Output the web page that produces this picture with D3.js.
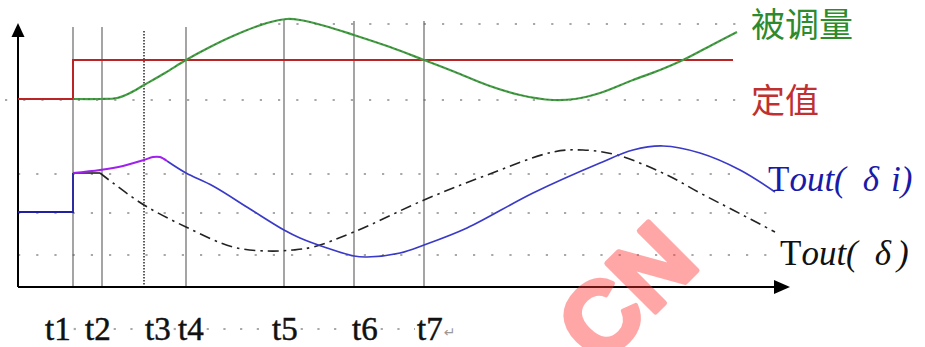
<!DOCTYPE html>
<html><head><meta charset="utf-8">
<script src="https://cdn.jsdelivr.net/npm/d3@7"></script>
<style>html,body{margin:0;padding:0;background:#fff;}svg{display:block;}</style>
</head><body>
<svg id="c" width="925" height="347"></svg>
<script>
// ---- data (x: time units, y: signal units) ----
const setpoint = [[0,188],[55,188],[55,227],[715,227]];
const controlled = [[55,188],[82,188],[99,189],[112,194],[126,202],[147,214],[168,227],[192,240],[215,251],[249,264],[269,268],[282,267],[307,261],[336,252],[372,240],[406,227],[437,215],[469,202],[502,192],[535,187],[557,188],[582,194],[615,207],[642,217],[665,227],[692,241],[719,255]];
const toutDiStep = [[0,75],[55,75],[55,114]];
const toutDiPurple = [[55,114],[82,117],[105,121],[126,127],[135,130],[142,130],[149,126]];
const toutDi = [[149,126],[168,114],[195,101],[232,78],[266,57],[282,49],[309,39],[336,31],[349,30],[382,34],[406,42],[449,59],[515,94],[582,124],[615,137],[645,141],[682,134],[722,117],[757,95]];
const toutDHold = [[55,114],[82,114]];
const toutD = [[82,114],[95,104],[126,82],[168,60],[215,40],[249,36],[275,37],[295,40],[336,55],[406,87],[469,112],[535,135],[565,137],[599,132],[649,112],[682,94],[715,77],[757,55]];
const markers = [55,84,126,168,266,336,406];
const markerTops = [260,260,256,260,267,266,266];
const markerDotted = [false,false,true,false,false,false,false];
const markerLabels = ["t1","t2","t3","t4","t5","t6","t7"];
const markerLabelX = [27,67,127,160,254,334,399];
const gridY = [263,187,113,74,32];
const gridX0 = [242,-13,0,0,0];
const gridX1 = [722,719,719,762,752];
const seriesLabels = ["被调量","定值"];
const seriesLabelY = [263,187];

// ---- scales ----
const x = d3.scaleLinear().domain([0,770]).range([18,788]);
const y = d3.scaleLinear().domain([0,270]).range([287,17]);
const svg = d3.select("#c");
const line = d3.line().x(d=>x(d[0])).y(d=>y(d[1]));
const smooth = d3.line().x(d=>x(d[0])).y(d=>y(d[1])).curve(d3.curveCatmullRom.alpha(0.5));

// grid (dotted)
svg.append("g").selectAll("line").data(gridY).join("line")
  .attr("x1",(d,i)=>x(gridX0[i])).attr("x2",(d,i)=>x(gridX1[i]))
  .attr("y1",d=>y(d)).attr("y2",d=>y(d))
  .attr("stroke","#a8a8a8").attr("stroke-width",2.2).attr("stroke-dasharray","2.2,16");

// vertical markers
svg.append("g").selectAll("line").data(markers).join("line")
  .attr("x1",d=>x(d)).attr("x2",d=>x(d))
  .attr("y1",(d,i)=>y(markerTops[i])).attr("y2",y(0))
  .attr("stroke",(d,i)=>markerDotted[i]?"#333":"#5a5a5a")
  .attr("stroke-width",(d,i)=>markerDotted[i]?1.6:1.1)
  .attr("stroke-dasharray",(d,i)=>markerDotted[i]?"1.5,1.5":null);

// axes
const ax = svg.append("g");
ax.append("line").attr("x1",x(0)).attr("x2",x(757)).attr("y1",y(0)).attr("y2",y(0)).attr("stroke","#000").attr("stroke-width",2);
ax.append("line").attr("x1",x(0)).attr("x2",x(0)).attr("y1",y(0)).attr("y2",y(252)).attr("stroke","#000").attr("stroke-width",2);
ax.append("path").attr("d",`M${x(0)},${y(264)}L${x(0)-6.5},${y(250)}L${x(0)+6.5},${y(250)}Z`).attr("fill","#000");
ax.append("path").attr("d",`M${x(772)},${y(0)}L${x(756)},${y(0)-7}L${x(756)},${y(0)+7}Z`).attr("fill","#000");

// setpoint
svg.append("path").datum(setpoint).attr("d",line).attr("fill","none").attr("stroke","#b92525").attr("stroke-width",2);
// controlled variable
svg.append("path").datum(controlled).attr("d",smooth).attr("fill","none").attr("stroke","#46a046").attr("stroke-width",2.2);
svg.append("path").datum(controlled).attr("d",smooth).attr("fill","none").attr("stroke","#2a4a2a").attr("stroke-width",0.9).attr("stroke-dasharray","2,3").attr("opacity",0.6);
// Tout(δ)
svg.append("path").datum(toutDHold).attr("d",line).attr("fill","none").attr("stroke","#222").attr("stroke-width",1.6);
svg.append("path").datum(toutD).attr("d",smooth).attr("fill","none").attr("stroke","#222").attr("stroke-width",1.6).attr("stroke-dasharray","11,5,2.5,5");
// Tout(δi)
svg.append("path").datum(toutDiStep).attr("d",line).attr("fill","none").attr("stroke","#2020a0").attr("stroke-width",1.8);
svg.append("path").datum(toutDiPurple).attr("d",smooth).attr("fill","none").attr("stroke","#a020f0").attr("stroke-width",2);
svg.append("path").datum(toutDi).attr("d",smooth).attr("fill","none").attr("stroke","#3a3ac8").attr("stroke-width",1.7);

// series labels (Chinese)
svg.append("g").selectAll("text").data(seriesLabels).join("text")
  .attr("x",751).attr("y",(d,i)=>y(seriesLabelY[i])+13)
  .attr("font-family","'Noto Sans CJK SC'").attr("font-size",34)
  .attr("fill",(d,i)=>i===0?"#2d8a2d":"#c03030").text(d=>d);

// Tout labels: parts = [text, italic, dx]
function toutLabel(xp, yv, color, parts){
  const t = svg.append("text").attr("x",xp).attr("y",y(yv)).attr("font-family","'Liberation Serif',serif").attr("font-size",35).attr("fill",color);
  parts.forEach(p=>t.append("tspan").attr("font-style",p[1]?"italic":"normal").attr("dx",p[2]).text(p[0]));
}
toutLabel(768, 96, "#1a1aa8", [["T",false,0],["out(",true,0],["δ",true,17],["i)",true,12]]);
toutLabel(780, 22, "#111", [["T",false,0],["out(",true,0],["δ",true,17],[")",true,6]]);

// bottom marker labels
const lbl = svg.append("g").selectAll("text").data(markerLabels).join("text")
  .attr("x",(d,i)=>x(markerLabelX[i])).attr("y",340)
  .attr("font-family","'Liberation Serif',serif").attr("font-size",33).attr("fill","#111")
  .attr("stroke","#111").attr("stroke-width",0.5).text(d=>d);
const ends = [];
lbl.each(function(d,i){ends.push([x(markerLabelX[i]), x(markerLabelX[i])+this.getComputedTextLength()]);});
const gaps = [];
for(let i=0;i<ends.length-1;i++) gaps.push([ends[i][1]+3, ends[i+1][0]-2]);
svg.append("g").selectAll("line").data(gaps).join("line")
  .attr("x1",d=>d[0]).attr("x2",d=>d[1]).attr("y1",329).attr("y2",329)
  .attr("stroke","#a8a8a8").attr("stroke-width",2.2).attr("stroke-dasharray","2.2,14.5");
svg.append("text").attr("x",ends[6][1]+1).attr("y",337).attr("font-family","'DejaVu Sans'").attr("font-size",14).attr("fill","#999").text("↵");

// watermark
svg.append("text").attr("transform","translate(626,292) rotate(-45)")
  .attr("text-anchor","middle").attr("dominant-baseline","central")
  .attr("font-family","'Liberation Sans',Arial,sans-serif").attr("font-weight","bold").attr("font-size",100)
  .attr("fill","#ff3030").attr("stroke","#ff3030").attr("stroke-width",5).attr("stroke-linejoin","round")
  .attr("opacity",0.42).text("CN");
</script>
</body></html>
